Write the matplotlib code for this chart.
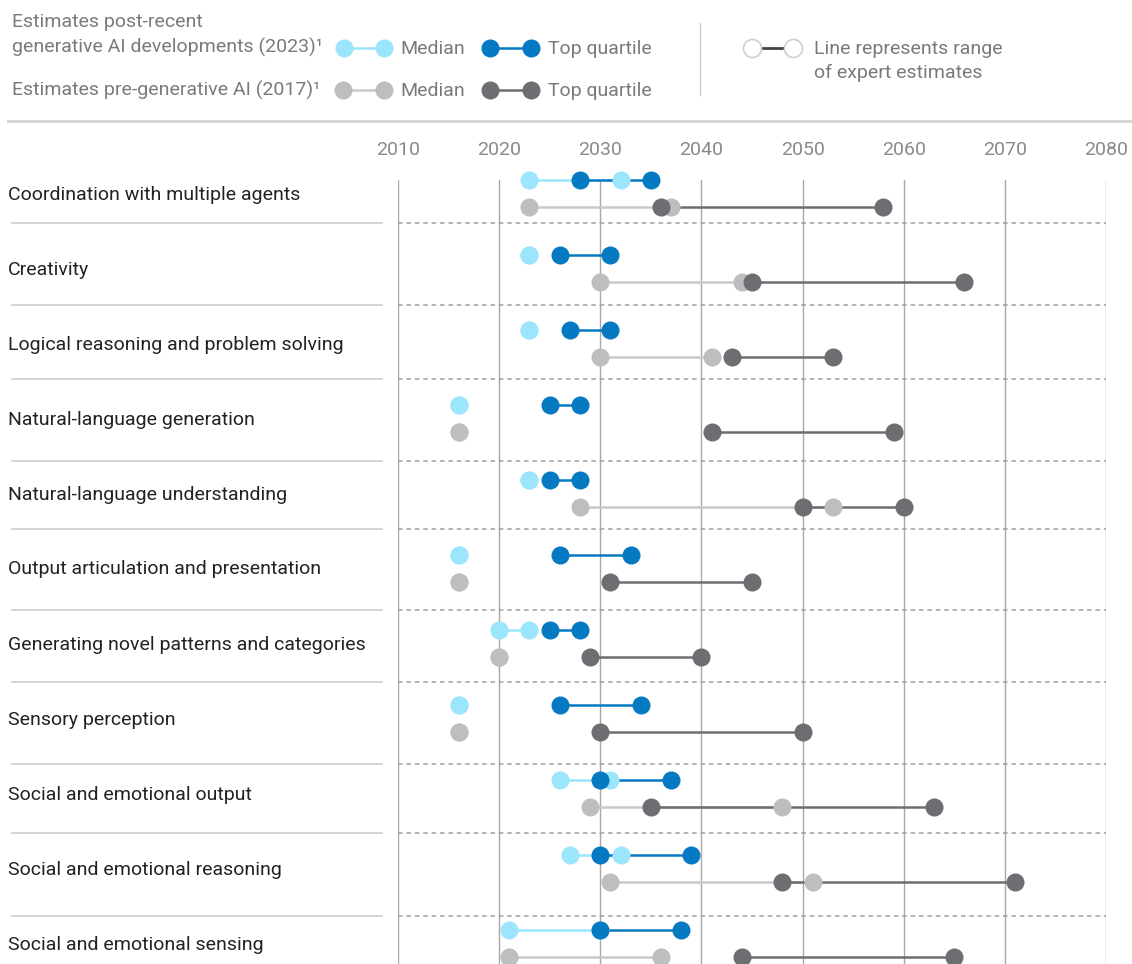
import numpy as np
import matplotlib
matplotlib.use("Agg")
import matplotlib.pyplot as plt
from matplotlib.lines import Line2D
import matplotlib.transforms as mtransforms

plt.rcParams['font.family'] = ['Roboto', 'DejaVu Sans']

skills = [
    "Coordination with multiple agents",
    "Creativity",
    "Logical reasoning and problem solving",
    "Natural-language generation",
    "Natural-language understanding",
    "Output articulation and presentation",
    "Generating novel patterns and categories",
    "Sensory perception",
    "Social and emotional output",
    "Social and emotional reasoning",
    "Social and emotional sensing",
]

# 2023 estimates (post generative AI)
med23_lo = [2023, 2023, 2023, 2016, 2023, 2016, 2020, 2016, 2026, 2027, 2021]
med23_hi = [2032, 2023, 2023, 2016, 2023, 2016, 2023, 2016, 2031, 2032, 2030]
top23_lo = [2028, 2026, 2027, 2025, 2025, 2026, 2025, 2026, 2030, 2030, 2030]
top23_hi = [2035, 2031, 2031, 2028, 2028, 2033, 2028, 2034, 2037, 2039, 2038]

# 2017 estimates (pre generative AI)
med17_lo = [2023, 2030, 2030, 2016, 2028, 2016, 2020, 2016, 2029, 2031, 2021]
med17_hi = [2037, 2044, 2041, 2016, 2053, 2016, 2020, 2016, 2048, 2051, 2036]
top17_lo = [2036, 2045, 2043, 2041, 2050, 2031, 2029, 2030, 2035, 2048, 2044]
top17_hi = [2058, 2066, 2053, 2059, 2060, 2045, 2040, 2050, 2063, 2071, 2065]

years = [2010, 2020, 2030, 2040, 2050, 2060, 2070, 2080]

LB = '#9be5fd'
DB = '#0679c3'
LG = '#bdbec0'
DG = '#6d6e71'
LGLINE = '#c9c9cb'
TXT = '#222222'
LEG = '#7a7a7a'

W, H = 1132, 964
fig = plt.figure(figsize=(W / 100, H / 100), dpi=100)


def fx(px):
    return px / W


def fy(py):
    return 1 - py / H


# row i label center at pixel 193 + 75*i
row0, rowh = 193.0, 75.0
ytop = (180 - row0) / rowh
ybot = (964 - row0) / rowh

ax = fig.add_axes([fx(398), 0, (1106 - 398) / W, (964 - 180) / H])
ax.set_xlim(2010, 2080)
ax.set_ylim(ybot, ytop)
for s in ax.spines.values():
    s.set_visible(False)
ax.set_yticks([])
ax.set_xticks(years)
ax.xaxis.tick_top()
ax.tick_params(axis='x', length=0, pad=15, labelsize=14, labelcolor='#8a8a8a')
ax.grid(axis='x', color='#a8a8a8', lw=1)
ax.set_axisbelow(True)

# row separators (pixel positions from the layout)
sep_px = [222.5, 305, 378.5, 460.5, 528.5, 609.5, 682, 763.5, 833, 915.5]
sep = [(p - row0) / rowh for p in sep_px]
ax.hlines(sep, 2010, 2080, colors='#a0a0a0', lw=1.1, linestyles=(0, (3, 2.5)))

blend = mtransforms.blended_transform_factory(fig.transFigure, ax.transData)
for s in sep:
    fig.add_artist(Line2D([fx(12), fx(382)], [s, s], transform=blend,
                          color='#c8c8c8', lw=1.1))

ms = 13
off_b, off_g = -0.175, 0.185
for i, name in enumerate(skills):
    fig.text(fx(8), i + 0.02, name, transform=blend, ha='left', va='center',
             fontsize=14, color=TXT)

    yb = i + off_b
    yg = i + off_g
    # 2023
    ax.plot([med23_lo[i], med23_hi[i]], [yb, yb], color=LB, lw=1.8, clip_on=False, zorder=3)
    ax.plot([top23_lo[i], top23_hi[i]], [yb, yb], color=DB, lw=1.8, clip_on=False, zorder=4)
    ax.plot([med23_lo[i], med23_hi[i]], [yb, yb], 'o', color=LB, ms=ms, mew=0,
            clip_on=False, zorder=5)
    ax.plot([top23_lo[i], top23_hi[i]], [yb, yb], 'o', color=DB, ms=ms, mew=0,
            clip_on=False, zorder=6)
    # 2017
    ax.plot([med17_lo[i], med17_hi[i]], [yg, yg], color=LGLINE, lw=1.8, clip_on=False, zorder=3)
    ax.plot([top17_lo[i], top17_hi[i]], [yg, yg], color=DG, lw=1.8, clip_on=False, zorder=4)
    ax.plot([med17_lo[i], med17_hi[i]], [yg, yg], 'o', color=LG, ms=ms, mew=0,
            clip_on=False, zorder=5)
    ax.plot([top17_lo[i], top17_hi[i]], [yg, yg], 'o', color=DG, ms=ms, mew=0,
            clip_on=False, zorder=6)

# legend block
fs_leg = 14
fig.text(fx(12), fy(22), "Estimates post-recent", ha='left', va='center',
         fontsize=fs_leg, color=LEG)
fig.text(fx(12), fy(47), "generative AI developments (2023)\u00b9", ha='left', va='center',
         fontsize=fs_leg, color=LEG)
fig.text(fx(12), fy(90), "Estimates pre-generative AI (2017)\u00b9", ha='left', va='center',
         fontsize=fs_leg, color=LEG)


def leg_pair(x1, x2, y, dot, line):
    fig.add_artist(Line2D([fx(x1), fx(x2)], [fy(y), fy(y)], color=line, lw=1.8))
    fig.add_artist(Line2D([fx(x1), fx(x2)], [fy(y), fy(y)], ls='none', marker='o',
                          ms=ms, mew=0, color=dot))


leg_pair(344, 384, 48, LB, LB)
leg_pair(490, 531, 48, DB, DB)
leg_pair(343, 384, 90, LG, LGLINE)
leg_pair(490, 531, 90, DG, DG)
for yy in (49, 91):
    fig.text(fx(400), fy(yy), "Median", ha='left', va='center', fontsize=fs_leg, color=LEG)
    fig.text(fx(548), fy(yy), "Top quartile", ha='left', va='center', fontsize=fs_leg, color=LEG)

fig.add_artist(Line2D([fx(700), fx(700)], [fy(23), fy(95)], color='#cccccc', lw=1))

fig.add_artist(Line2D([fx(758), fx(787)], [fy(48), fy(48)], color='#444444', lw=2))
fig.add_artist(Line2D([fx(752), fx(793)], [fy(48), fy(48)], ls='none', marker='o', ms=ms,
                      mfc='white', mec='#cfcfcf', mew=1.2))
fig.text(fx(814), fy(49), "Line represents range", ha='left', va='center',
         fontsize=fs_leg, color=LEG)
fig.text(fx(814), fy(73), "of expert estimates", ha='left', va='center',
         fontsize=fs_leg, color=LEG)

fig.add_artist(Line2D([fx(8), fx(1132)], [fy(121), fy(121)], color='#d4d4d4', lw=2))

fig.savefig("out.png", dpi=100)
